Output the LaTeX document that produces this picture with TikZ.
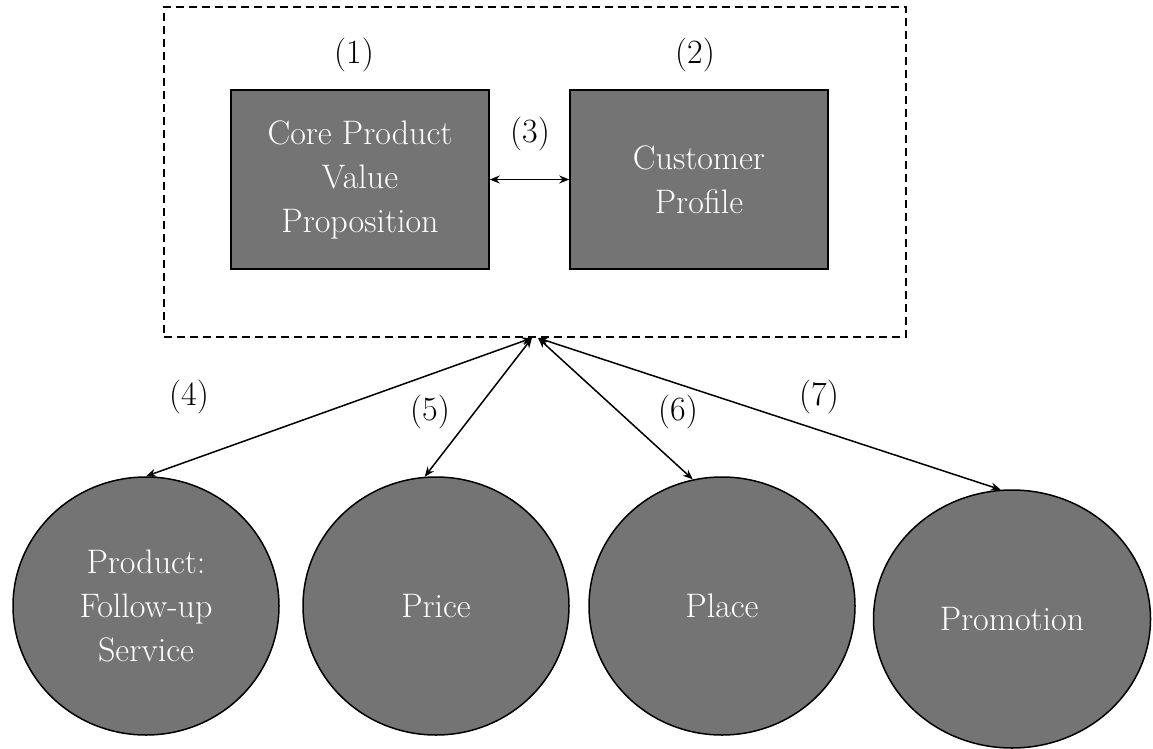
\documentclass[tikz,border=0pt]{standalone}
\usepackage{fontspec}
\setmainfont{Latin Modern Roman}
\usetikzlibrary{shapes.geometric,arrows.meta}
\definecolor{boxgray}{RGB}{116,116,116}
\begin{document}
\begin{tikzpicture}[x=1pt,y=-1pt,
  every node/.style={font=\fontsize{34}{44}\selectfont},
  corebox/.style={draw=black,line width=1.5pt,fill=boxgray,text=white,minimum width=258pt,minimum height=179pt,inner sep=0pt,align=center},
  mixel/.style={ellipse,draw=black,line width=1.5pt,fill=boxgray,text=white,minimum width=266pt,minimum height=258pt,inner sep=0pt,align=center},
  lbl/.style={text=black},
  link/.style={line width=1.5pt,{Stealth[length=10pt,width=8pt]}-{Stealth[length=10pt,width=8pt]}}]
\useasboundingbox (0,0) rectangle (1153,749);
\node[draw=black,dashed,line width=1.5pt,dash pattern=on 8pt off 5pt,minimum width=742pt,minimum height=330pt,inner sep=0pt] (frame) at (535,172) {};
\node[corebox] (cpv) at (360,179.5) {Core Product\\Value\\Proposition};
\node[corebox] (cp) at (699,179.5) {Customer\\Profile};
\node[lbl] (l1) at (354,55) {(1)};
\node[lbl] (l2) at (695,55) {(2)};
\node[lbl] (l3) at (530,134) {(3)};
\draw[link] (cpv.east) -- (cp.west);
\coordinate (hubL) at (532,338);
\coordinate (hubR) at (538,338);
\node[mixel] (prod) at (146,606) {Product:\\Follow-up\\Service};
\node[mixel] (price) at (436,606) {Price};
\node[mixel] (place) at (722,606) {Place};
\node[mixel,minimum width=277pt] (promo) at (1012,619) {Promotion};
\draw[link] (prod.90) -- (hubL);
\draw[link] (price.95) -- (hubL);
\draw[link] (place.103) -- (hubR);
\draw[link] (promo.95) -- (hubR);
\node[lbl] (l4) at (189,397) {(4)};
\node[lbl] (l5) at (430,412) {(5)};
\node[lbl] (l6) at (678,412) {(6)};
\node[lbl] (l7) at (819,397) {(7)};
\end{tikzpicture}
\end{document}
